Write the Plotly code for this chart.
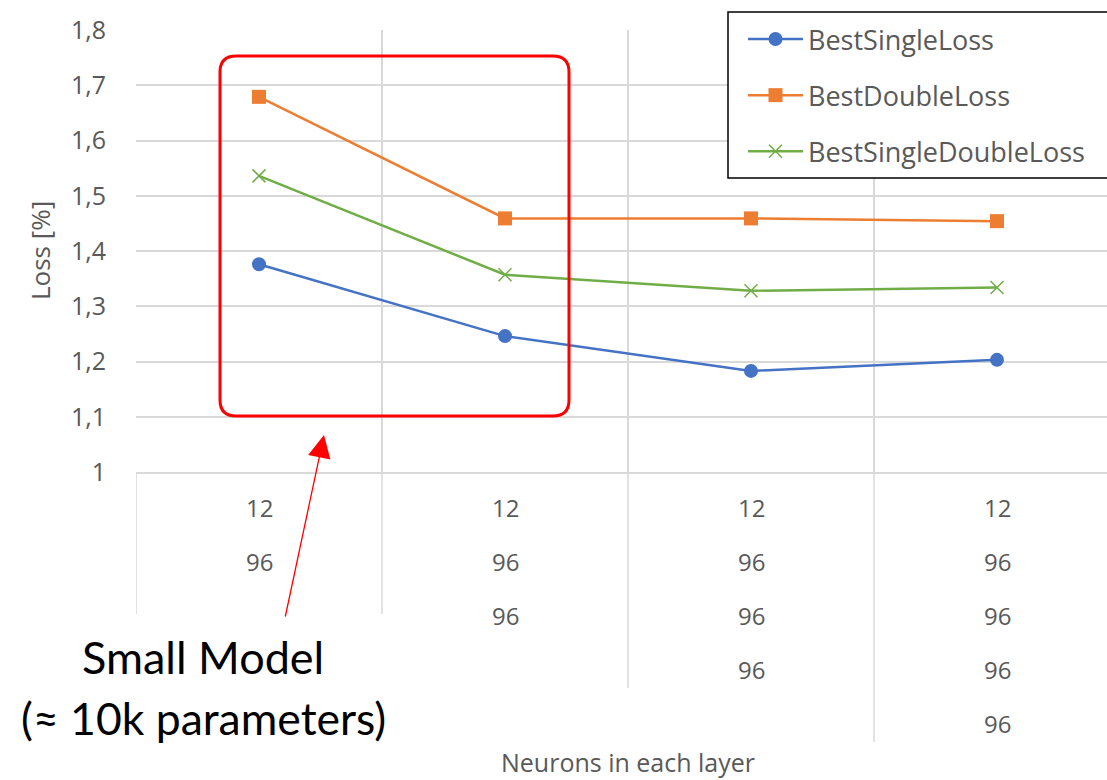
import plotly.graph_objects as go

# ---- data ----
series_names = ["BestSingleLoss", "BestDoubleLoss", "BestSingleDoubleLoss"]
best_single = [1.376, 1.246, 1.183, 1.203]
best_double = [1.679, 1.459, 1.459, 1.454]
best_single_double = [1.536, 1.357, 1.328, 1.334]
layer_sizes = [
    ["12", "96"],
    ["12", "96", "96"],
    ["12", "96", "96", "96"],
    ["12", "96", "96", "96", "96"],
]
y_ticks = [1.0, 1.1, 1.2, 1.3, 1.4, 1.5, 1.6, 1.7, 1.8]

# ---- layout geometry (pixels) ----
W, H = 1107, 780
ML, MR, MT, MB = 136, 0, 30, 308
PW, PH = W - ML - MR, H - MT - MB


def fx(px):
    return (px - ML) / PW


def fy(py):
    return (H - MB - py) / PH


FONT = "Open Sans"
GREY = "#595959"
GRID = "#D9D9D9"
colors = ["#4472C4", "#ED7D31", "#70AD47"]

x_idx = list(range(len(layer_sizes)))

fig = go.Figure()
fig.add_trace(go.Scatter(
    x=x_idx, y=best_single, name=series_names[0], mode="lines+markers",
    legendgroup="a",
    line=dict(color=colors[0], width=2.5),
    marker=dict(symbol="circle", size=14, color=colors[0]),
))
fig.add_trace(go.Scatter(
    x=x_idx, y=best_double, name=series_names[1], mode="lines+markers",
    legendgroup="b",
    line=dict(color=colors[1], width=2.5),
    marker=dict(symbol="square", size=14, color=colors[1]),
))
fig.add_trace(go.Scatter(
    x=x_idx, y=best_single_double, name=series_names[2], mode="lines+markers",
    legendgroup="c",
    line=dict(color=colors[2], width=2.5),
    marker=dict(symbol="x-thin", size=13, color=colors[2],
                line=dict(color=colors[2], width=1.5)),
))

annotations = []
# stacked category labels under each point
for i, rows in enumerate(layer_sizes):
    for r, lab in enumerate(rows):
        annotations.append(dict(
            x=i, y=fy(507 + 54 * r), xref="x", yref="paper", text=lab,
            showarrow=False, font=dict(family=FONT, size=24, color=GREY),
            xanchor="center", yanchor="middle",
        ))

# axis titles
annotations.append(dict(
    x=1.5, y=fy(762), xref="x", yref="paper", text="Neurons in each layer",
    showarrow=False, font=dict(family=FONT, size=25, color=GREY),
    xanchor="center", yanchor="middle",
))
annotations.append(dict(
    x=fx(40), y=fy(251), xref="paper", yref="paper", text="Loss [%]",
    textangle=-90, showarrow=False, font=dict(family=FONT, size=26, color=GREY),
    xanchor="center", yanchor="middle",
))

# callout text and arrow
annotations.append(dict(
    x=fx(203), y=fy(657), xref="paper", yref="paper", text="Small Model",
    showarrow=False, font=dict(family="Lato", size=45, color="black"),
    xanchor="center", yanchor="middle",
))
annotations.append(dict(
    x=fx(203), y=fy(717), xref="paper", yref="paper", text="(≈ 10k parameters)",
    showarrow=False, font=dict(family="Lato", size=44.5, color="black"),
    xanchor="center", yanchor="middle",
))
annotations.append(dict(
    x=fx(324), y=fy(435), xref="paper", yref="paper", text="",
    showarrow=True, ax=285 - 324, ay=618 - 435,
    arrowhead=2, arrowsize=3.5, arrowwidth=1.3, arrowcolor="#FF0000",
))

shapes = []
# separators between category groups below the axis
sep_x = [-0.5, 0.5, 1.5, 2.5]
sep_bottom = [614, 614, 688, 742]
for xv, yb in zip(sep_x, sep_bottom):
    shapes.append(dict(
        type="line", xref="x", yref="paper", x0=xv, x1=xv, y0=0, y1=fy(yb),
        line=dict(color=GRID, width=1.5),
    ))

# rounded highlight box around the small model
x0, x1, y0, y1, rad = 220, 569, 56, 416, 16
rx, ry = rad / PW, rad / PH
L, R, T, B = fx(x0), fx(x1), fy(y0), fy(y1)
path = (
    f"M {L + rx},{T} L {R - rx},{T} Q {R},{T} {R},{T - ry} "
    f"L {R},{B + ry} Q {R},{B} {R - rx},{B} "
    f"L {L + rx},{B} Q {L},{B} {L},{B + ry} "
    f"L {L},{T - ry} Q {L},{T} {L + rx},{T} Z"
)
shapes.append(dict(type="path", xref="paper", yref="paper", path=path,
                   line=dict(color="#FF0000", width=3)))

# legend frame (runs off the right edge of the figure)
shapes.append(dict(
    type="rect", xref="paper", yref="paper", layer="above",
    x0=fx(728), x1=fx(1120), y0=fy(178), y1=fy(12),
    fillcolor="white", line=dict(color="black", width=1.5),
))

fig.update_layout(
    width=W, height=H,
    margin=dict(l=ML, r=MR, t=MT, b=MB, pad=0),
    paper_bgcolor="white", plot_bgcolor="white",
    separators=",.",
    font=dict(family=FONT, color=GREY, size=22),
    xaxis=dict(
        range=[-0.5, -0.5 + PW / 246], tickvals=sep_x, showticklabels=False,
        showgrid=True, gridcolor=GRID, gridwidth=1.5, zeroline=False,
        showline=True, linecolor=GRID, linewidth=1.5, ticks="",
    ),
    yaxis=dict(
        range=[1.0, 1.8], tickvals=y_ticks,
        ticktext=[f"{v:g}".replace(".", ",") for v in y_ticks],
        showgrid=True, gridcolor=GRID, gridwidth=1.5, zeroline=False,
        showline=False, ticks="", ticklabelstandoff=29,
        tickfont=dict(family=FONT, size=25, color=GREY),
    ),
    legend=dict(
        x=fx(743), y=fy(15), xanchor="left", yanchor="top",
        bgcolor="rgba(0,0,0,0)", borderwidth=0,
        font=dict(family=FONT, size=27, color=GREY),
        tracegroupgap=18, itemwidth=55,
    ),
    annotations=annotations,
    shapes=shapes,
)

fig.write_html("out.html")
